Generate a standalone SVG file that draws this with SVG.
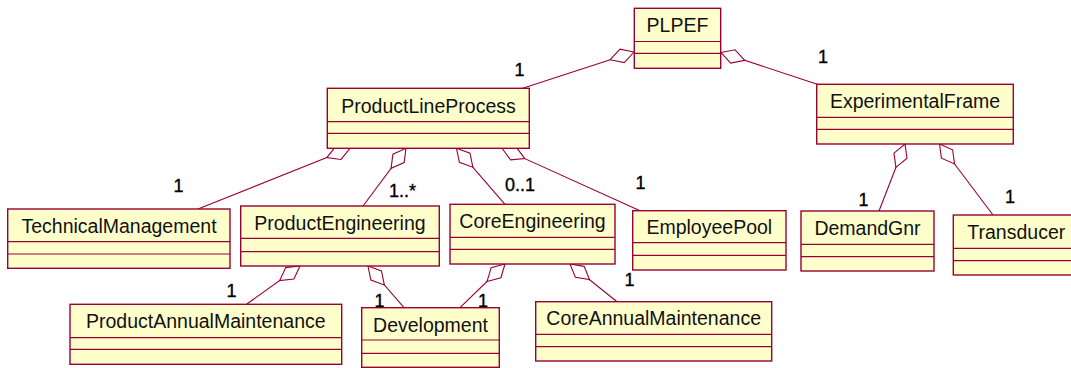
<svg xmlns="http://www.w3.org/2000/svg" width="1071" height="368" viewBox="0 0 1071 368">
  <style>
    .box { fill: #ffffcc; stroke: #990033; stroke-width: 1.4; }
    .div { stroke: #990033; stroke-width: 1.2; }
    .name { font-family: "Liberation Sans", Arial, sans-serif; font-size: 19.5px; fill: #111; text-anchor: middle; }
    .link { stroke: #990033; stroke-width: 1.1; fill: none; marker-start: url(#agg); }
    .mult { font-family: "Liberation Sans", Arial, sans-serif; font-size: 18px; fill: #000; stroke: #000; stroke-width: 0.35; }
  </style>
  <defs>
    <!-- hollow aggregation diamond, tip sits on the owning class -->
    <marker id="agg" markerUnits="userSpaceOnUse" viewBox="0 0 27 16" markerWidth="27" markerHeight="16" refX="0.5" refY="8" orient="auto" overflow="visible">
      <path d="M0.5,8 L13,1 L25.5,8 L13,15 Z" fill="#ffffff" stroke="#990033" stroke-width="1.1"/>
    </marker>
  </defs>

  <rect width="1071" height="368" fill="#ffffff"/>

  <g id="connectors">
    <line class="link" x1="634" y1="52" x2="522" y2="88.5"/>
    <line class="link" x1="721" y1="52.5" x2="818" y2="84.5"/>
    <line class="link" x1="350" y1="148.3" x2="198" y2="209"/>
    <line class="link" x1="406" y1="148.3" x2="363" y2="206"/>
    <line class="link" x1="456.5" y1="148.3" x2="505" y2="204.3"/>
    <line class="link" x1="502" y1="148.3" x2="640" y2="210.7"/>
    <line class="link" x1="905" y1="144" x2="879" y2="211"/>
    <line class="link" x1="939.5" y1="144" x2="993" y2="215"/>
    <line class="link" x1="300" y1="266" x2="246.5" y2="304.3"/>
    <line class="link" x1="368" y1="266" x2="404" y2="307.7"/>
    <line class="link" x1="505" y1="264" x2="460" y2="307.7"/>
    <line class="link" x1="570" y1="264" x2="617" y2="301.7"/>
  </g>

  <g id="PLPEF">
    <rect class="box" x="634.3" y="8.3" width="86.4" height="60"/>
    <line class="div" x1="634.3" y1="41.5" x2="720.7" y2="41.5"/>
    <line class="div" x1="634.3" y1="53.3" x2="720.7" y2="53.3"/>
    <text class="name" x="677.5" y="32.3">PLPEF</text>
  </g>

  <g id="ProductLineProcess">
    <rect class="box" x="327.3" y="88.3" width="202" height="60"/>
    <line class="div" x1="327.3" y1="121.7" x2="529.3" y2="121.7"/>
    <line class="div" x1="327.3" y1="133.3" x2="529.3" y2="133.3"/>
    <text class="name" x="428.5" y="112.8">ProductLineProcess</text>
  </g>

  <g id="ExperimentalFrame">
    <rect class="box" x="816.7" y="84.3" width="196.6" height="59.7"/>
    <line class="div" x1="816.7" y1="117.3" x2="1013.3" y2="117.3"/>
    <line class="div" x1="816.7" y1="129.3" x2="1013.3" y2="129.3"/>
    <text class="name" x="915" y="107.5">ExperimentalFrame</text>
  </g>

  <g id="TechnicalManagement">
    <rect class="box" x="7.7" y="209" width="222.3" height="59.3"/>
    <line class="div" x1="7.7" y1="241.7" x2="230" y2="241.7"/>
    <line class="div" x1="7.7" y1="254" x2="230" y2="254"/>
    <text class="name" x="119" y="232.5">TechnicalManagement</text>
  </g>

  <g id="ProductEngineering">
    <rect class="box" x="240.7" y="206" width="198.6" height="60"/>
    <line class="div" x1="240.7" y1="238.3" x2="439.3" y2="238.3"/>
    <line class="div" x1="240.7" y1="251.7" x2="439.3" y2="251.7"/>
    <text class="name" x="340" y="229.5">ProductEngineering</text>
  </g>

  <g id="CoreEngineering">
    <rect class="box" x="450" y="204.3" width="165" height="59.7"/>
    <line class="div" x1="450" y1="237.3" x2="615" y2="237.3"/>
    <line class="div" x1="450" y1="249.3" x2="615" y2="249.3"/>
    <text class="name" x="532.5" y="227.5">CoreEngineering</text>
  </g>

  <g id="EmployeePool">
    <rect class="box" x="632.7" y="210.7" width="153.3" height="59.3"/>
    <line class="div" x1="632.7" y1="242.7" x2="786" y2="242.7"/>
    <line class="div" x1="632.7" y1="255.3" x2="786" y2="255.3"/>
    <text class="name" x="709.3" y="234">EmployeePool</text>
  </g>

  <g id="DemandGnr">
    <rect class="box" x="801" y="211" width="133" height="60"/>
    <line class="div" x1="801" y1="244.3" x2="934" y2="244.3"/>
    <line class="div" x1="801" y1="256.7" x2="934" y2="256.7"/>
    <text class="name" x="867.5" y="234.5">DemandGnr</text>
  </g>

  <g id="Transducer">
    <rect class="box" x="953.3" y="215" width="126" height="60"/>
    <line class="div" x1="953.3" y1="248.3" x2="1079.3" y2="248.3"/>
    <line class="div" x1="953.3" y1="260.7" x2="1079.3" y2="260.7"/>
    <text class="name" x="1016.3" y="238.5">Transducer</text>
  </g>

  <g id="ProductAnnualMaintenance">
    <rect class="box" x="70" y="304.3" width="271.7" height="60"/>
    <line class="div" x1="70" y1="337.7" x2="341.7" y2="337.7"/>
    <line class="div" x1="70" y1="349.3" x2="341.7" y2="349.3"/>
    <text class="name" x="205.8" y="328">ProductAnnualMaintenance</text>
  </g>

  <g id="Development">
    <rect class="box" x="361.7" y="307.7" width="137.6" height="59.6"/>
    <line class="div" x1="361.7" y1="340" x2="499.3" y2="340"/>
    <line class="div" x1="361.7" y1="353.3" x2="499.3" y2="353.3"/>
    <text class="name" x="430.5" y="331.5">Development</text>
  </g>

  <g id="CoreAnnualMaintenance">
    <rect class="box" x="535.7" y="301.7" width="236" height="59.3"/>
    <line class="div" x1="535.7" y1="334.3" x2="771.7" y2="334.3"/>
    <line class="div" x1="535.7" y1="346.7" x2="771.7" y2="346.7"/>
    <text class="name" x="653.7" y="325">CoreAnnualMaintenance</text>
  </g>

  <g id="multiplicities">
    <text class="mult" x="514.5" y="76">1</text>
    <text class="mult" x="818" y="63">1</text>
    <text class="mult" x="173.5" y="192">1</text>
    <text class="mult" x="389" y="197">1..*</text>
    <text class="mult" x="505" y="191">0..1</text>
    <text class="mult" x="635.5" y="189">1</text>
    <text class="mult" x="858.5" y="206">1</text>
    <text class="mult" x="1005" y="203">1</text>
    <text class="mult" x="226.5" y="297">1</text>
    <text class="mult" x="374.5" y="307">1</text>
    <text class="mult" x="478" y="307">1</text>
    <text class="mult" x="624.5" y="286">1</text>
  </g>
</svg>
